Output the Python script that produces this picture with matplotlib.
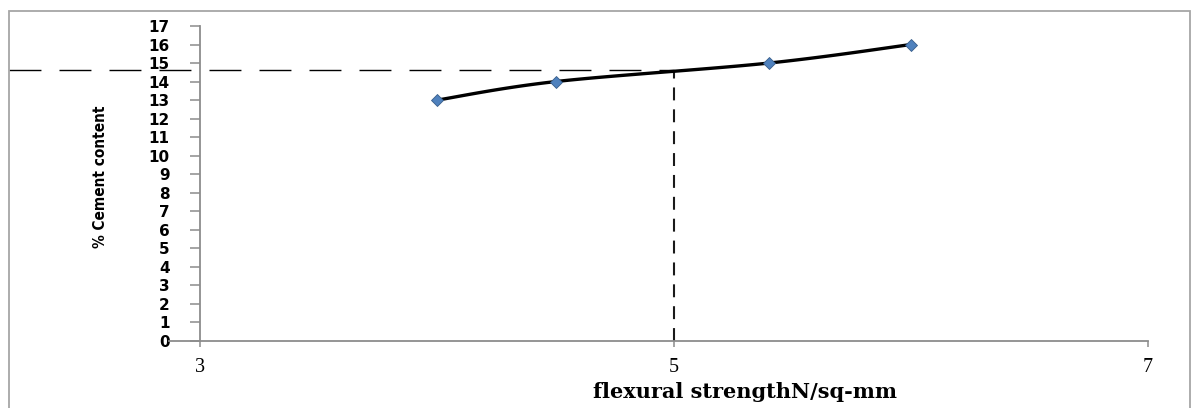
"""
Courbe % ciment vs resistance a la flexion (style Excel)
"""

import numpy as np
import matplotlib.pyplot as plt
from matplotlib.patches import Rectangle
from matplotlib.lines import Line2D

# Donnees
strength = [4.0, 4.5, 5.4, 6.0]
cement = [13, 14, 15, 16]
target_strength = 5.0
target_cement = 14.6

x_ticks = [3, 5, 7]
y_ticks = list(range(0, 18))


def smooth_curve(xs, ys, n=40):
    """Spline Catmull-Rom pour imiter la ligne lissee d'Excel"""
    pts = np.column_stack([xs, ys]).astype(float)
    p = np.vstack([pts[0], pts, pts[-1]])
    out = []
    for i in range(1, len(p) - 2):
        p0, p1, p2, p3 = p[i - 1], p[i], p[i + 1], p[i + 2]
        t = np.linspace(0, 1, n)[:, None]
        seg = 0.5 * ((2 * p1) + (-p0 + p2) * t
                     + (2 * p0 - 5 * p1 + 4 * p2 - p3) * t ** 2
                     + (-p0 + 3 * p1 - 3 * p2 + p3) * t ** 3)
        out.append(seg)
    out = np.vstack(out)
    return out[:, 0], out[:, 1]


fig = plt.figure(figsize=(11.94, 4.08), dpi=100)
ax = fig.add_axes([200 / 1194, 67 / 408, 948 / 1194, 315 / 408])

# Cadre exterieur du graphique
frame = Rectangle((9 / 1194, -0.2), 1181 / 1194, 1.2 - 11 / 408,
                  transform=fig.transFigure, fill=False,
                  edgecolor='#a6a6a6', linewidth=1.3, clip_on=False)
fig.patches.append(frame)

ax.set_xlim(3, 7)
ax.set_ylim(0, 17)

# Courbe lissee + marqueurs
sx, sy = smooth_curve(strength, cement)
ax.plot(sx, sy, color='black', linewidth=2.4, zorder=3)
ax.plot(strength, cement, linestyle='none', marker='D', markersize=6,
        markerfacecolor='#4f81bd', markeredgecolor='#385d8a',
        markeredgewidth=0.6, zorder=4)

# Lignes de lecture en pointilles
fig.canvas.draw()
x_left = ax.transData.inverted().transform(
    fig.transFigure.transform((9 / 1194, 0)))[0]
ax.plot([x_left, target_strength], [target_cement, target_cement],
        color='black', linewidth=1.0, dashes=(23, 13), clip_on=False, zorder=2)
ax.plot([target_strength, target_strength], [0, target_cement],
        color='#1a1a1a', linewidth=1.5, dashes=(6.2, 4.3), zorder=2)

# Axes
for side in ['top', 'right']:
    ax.spines[side].set_visible(False)
for side in ['left', 'bottom']:
    ax.spines[side].set_color('#8c8c8c')
    ax.spines[side].set_linewidth(1.3)

ax.set_xticks(x_ticks)
ax.set_yticks(y_ticks)
ax.tick_params(axis='y', direction='out', length=7, width=1.1,
               color='#8c8c8c', pad=15, labelsize=11)
ax.tick_params(axis='x', direction='out', length=4, width=1.1,
               color='#8c8c8c', pad=8, labelsize=14.5)
for lab in ax.get_yticklabels():
    lab.set_fontfamily('DejaVu Sans')
    lab.set_fontweight('bold')
    lab.set_fontstretch('normal')
for lab in ax.get_xticklabels():
    lab.set_fontfamily('Liberation Serif')

# Prolongement de l'axe horizontal a gauche
ax.add_line(Line2D([-0.033, 0], [0, 0], transform=ax.transAxes,
                   color='#8c8c8c', linewidth=1.3, clip_on=False))

ax.set_xlabel('flexural strengthN/sq-mm', fontsize=15, fontweight='bold',
              family='DejaVu Serif')
ax.xaxis.set_label_coords(0.575, -0.13)
ax.set_ylabel('% Cement content', fontsize=11, fontweight='bold',
              family='DejaVu Sans', fontstretch='condensed')
ax.yaxis.set_label_coords(-0.097, 0.52)

fig.savefig('out.png', dpi=100)
plt.close(fig)
